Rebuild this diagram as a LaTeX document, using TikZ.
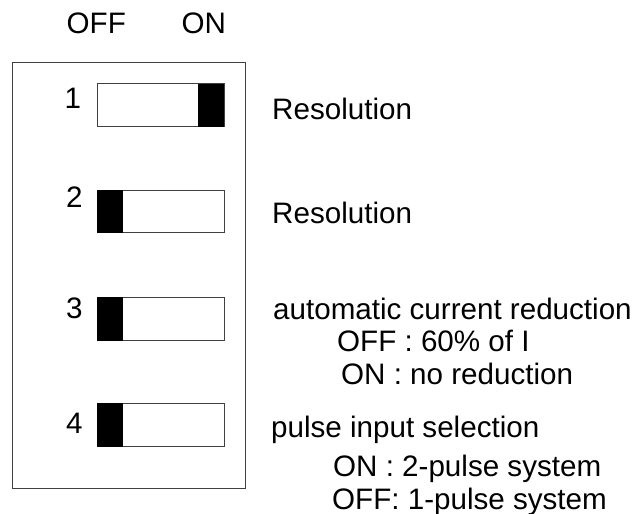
\documentclass[tikz,border=0pt]{standalone}
\usepackage{fontspec}
\setmainfont{Liberation Sans}
\begin{document}
\begin{tikzpicture}[x=1bp,y=-1bp,
  txt/.style={anchor=base west,inner sep=0pt,font=\fontsize{29.7}{33}\selectfont},
  frame/.style={draw=black!75,line width=1bp},
  sw/.style={draw=black!75,line width=1bp,fill=white},
  knob/.style={fill=black}]
\useasboundingbox (0,0) rectangle (635,514);
% outer frame
\draw[frame] (12,63) rectangle (245,488);
% header
\node[txt] (hoff) at (66.5,34) {OFF};
\node[txt] (hon) at (181.5,34) {ON};
% switch 1 (ON)
\draw[sw] (97,84) rectangle (224,127);
\fill[knob] (197.5,84) rectangle (224,127);
% switch 2 (OFF)
\draw[sw] (97,191) rectangle (224,233);
\fill[knob] (96.5,190.5) rectangle (122.5,233.5);
% switch 3 (OFF)
\draw[sw] (97,297) rectangle (224,340);
\fill[knob] (96.5,296.5) rectangle (122.5,340.5);
% switch 4 (OFF)
\draw[sw] (97,403) rectangle (224,446);
\fill[knob] (96.5,402.5) rectangle (122.5,446.5);
% numbers
\node[txt] (n1) at (64.5,109) {1};
\node[txt] (n2) at (66,208) {2};
\node[txt] (n3) at (66,318) {3};
\node[txt] (n4) at (66,433) {4};
% descriptions
\node[txt] (r1) at (272,120) {Resolution};
\node[txt] (r2) at (272,224) {Resolution};
\node[txt] (a1) at (273,319) {automatic current reduction};
\node[txt] (a2) at (337,351) {OFF : 60\% of I};
\node[txt] (a3) at (341,384) {ON : no reduction};
\node[txt] (p1) at (271,437) {pulse input selection};
\node[txt] (p2) at (333,476) {ON : 2-pulse system};
\node[txt] (p3) at (332,509) {OFF: 1-pulse system};
\end{tikzpicture}
\end{document}
